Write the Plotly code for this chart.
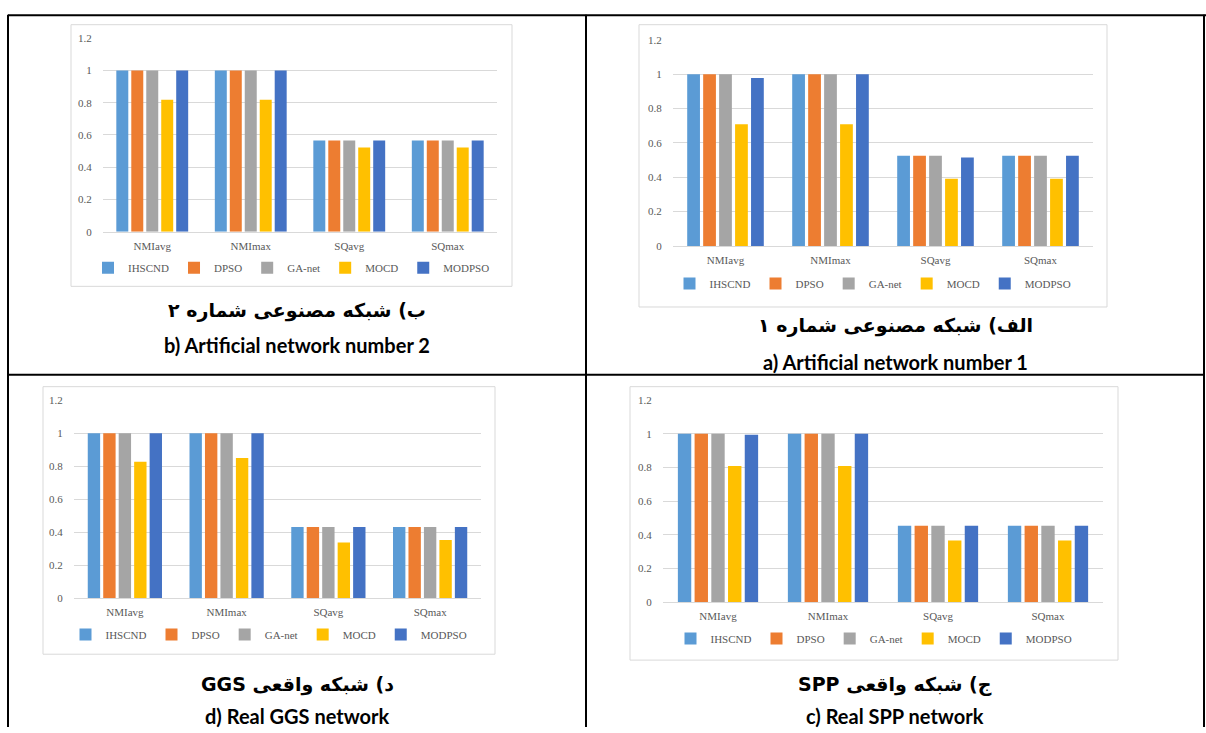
import plotly.graph_objects as go

W, H = 1206, 733

categories = ["NMIavg", "NMImax", "SQavg", "SQmax"]
methods = ["IHSCND", "DPSO", "GA-net", "MOCD", "MODPSO"]
colors = ["#5B9BD5", "#ED7D31", "#A5A5A5", "#FFC000", "#4472C4"]

# rows follow `methods`, columns follow `categories`
art1_values = [
    [1.0, 1.0, 0.525, 0.525],
    [1.0, 1.0, 0.525, 0.525],
    [1.0, 1.0, 0.525, 0.525],
    [0.708, 0.708, 0.391, 0.391],
    [0.977, 1.0, 0.515, 0.525],
]
art2_values = [
    [1.0, 1.0, 0.565, 0.565],
    [1.0, 1.0, 0.565, 0.565],
    [1.0, 1.0, 0.565, 0.565],
    [0.818, 0.818, 0.523, 0.523],
    [1.0, 1.0, 0.565, 0.565],
]
spp_values = [
    [1.0, 1.0, 0.453, 0.453],
    [1.0, 1.0, 0.453, 0.453],
    [1.0, 1.0, 0.453, 0.453],
    [0.809, 0.809, 0.366, 0.366],
    [0.994, 1.0, 0.453, 0.453],
]
ggs_values = [
    [1.0, 1.0, 0.431, 0.431],
    [1.0, 1.0, 0.431, 0.431],
    [1.0, 1.0, 0.431, 0.431],
    [0.827, 0.849, 0.337, 0.353],
    [1.0, 1.0, 0.431, 0.431],
]

y_ticks = [0, 0.2, 0.4, 0.6, 0.8, 1, 1.2]

fa_captions = ["ب) شبکه مصنوعی شماره ۲", "الف) شبکه مصنوعی شماره ۱",
               "د) شبکه واقعی GGS", "ج) شبکه واقعی SPP"]
en_captions = ["b) Artificial network number 2", "a) Artificial network number 1",
               "d) Real GGS network", "c) Real SPP network"]


def fx(px):
    return px / W


def fy(py):
    return 1 - py / H


panels = [
    dict(vals=art2_values, plot=(103, 32.7, 497, 229.5), frame=(71, 19, 512, 285),
         leg=(291.5, 266), cap_x=297, fa_y=310, en_y=345),
    dict(vals=art1_values, plot=(673, 34.3, 1093, 244), frame=(639, 19, 1107, 306),
         leg=(873, 282), cap_x=895, fa_y=325, en_y=362),
    dict(vals=ggs_values, plot=(74, 400.7, 481, 602), frame=(43, 387, 495, 659),
         leg=(269, 639), cap_x=297, fa_y=690, en_y=722),
    dict(vals=spp_values, plot=(663, 400.7, 1103, 606), frame=(630, 387, 1118, 665),
         leg=(874, 643), cap_x=895, fa_y=690, en_y=722),
]

axis_font = dict(family="Liberation Serif, Times New Roman, serif", size=11, color="#595959")

fig = go.Figure()
layout = dict(
    width=W, height=H,
    margin=dict(l=0, r=0, t=0, b=0),
    paper_bgcolor="white", plot_bgcolor="rgba(0,0,0,0)",
    barmode="group", bargap=0.24, bargroupgap=0.2,
    shapes=[], annotations=[],
)

for i, p in enumerate(panels):
    sfx = "" if i == 0 else str(i + 1)
    leg_name = "legend" if i == 0 else "legend" + str(i + 1)
    for m, name in enumerate(methods):
        fig.add_trace(go.Bar(
            x=categories, y=p["vals"][m], name=name,
            marker=dict(color=colors[m], line=dict(width=0)),
            xaxis="x" + sfx, yaxis="y" + sfx, legend=leg_name,
            hovertemplate=name + " %{x}: %{y}<extra></extra>",
        ))
    x0, y0, x1, y1 = p["plot"]
    layout["xaxis" + sfx] = dict(
        domain=[fx(x0), fx(x1)], anchor="y" + sfx, type="category",
        showline=True, linecolor="#D9D9D9", linewidth=1, showgrid=False,
        ticks="outside", ticklen=4, tickcolor="rgba(0,0,0,0)",
        tickfont=axis_font, fixedrange=True,
    )
    layout["yaxis" + sfx] = dict(
        domain=[fy(y1), fy(y0)], anchor="x" + sfx, range=[0, 1.2001],
        tickvals=y_ticks, ticktext=[f"{v:g}" for v in y_ticks],
        showgrid=True, gridcolor="#D9D9D9", gridwidth=1,
        zeroline=False, showline=False,
        ticks="outside", ticklen=8, tickcolor="rgba(0,0,0,0)",
        tickfont=axis_font, fixedrange=True,
    )
    lx, ly = p["leg"]
    layout[leg_name] = dict(
        orientation="h", x=fx(lx), xanchor="center", y=fy(ly), yanchor="middle",
        font=axis_font, bgcolor="rgba(0,0,0,0)", traceorder="normal",
        itemwidth=30,
    )
    fx0, fy0, fx1, fy1 = p["frame"]
    layout["shapes"].append(dict(
        type="rect", xref="paper", yref="paper", layer="below",
        x0=fx(fx0), x1=fx(fx1), y0=fy(fy1), y1=fy(fy0),
        line=dict(color="#D9D9D9", width=1), fillcolor="white",
    ))
    layout["annotations"].append(dict(
        xref="paper", yref="paper", x=fx(p["cap_x"]), y=fy(p["fa_y"]),
        xanchor="center", yanchor="middle", showarrow=False,
        text="\u202b" + fa_captions[i] + "\u202c",
        font=dict(family="DejaVu Sans, sans-serif", size=19, color="black", weight=700),
    ))
    layout["annotations"].append(dict(
        xref="paper", yref="paper", x=fx(p["cap_x"]), y=fy(p["en_y"]),
        xanchor="center", yanchor="middle", showarrow=False,
        text=en_captions[i],
        font=dict(family="Lato, Open Sans, sans-serif", size=20, color="black", weight=700),
    ))

# table borders
table_lines = [
    (8, 9.5, 1206, 9.5),
    (8, 9, 8, 733),
    (586, 9, 586, 733),
    (1204, 9, 1204, 733),
    (8, 375, 1204, 375),
]
for (ax0, ay0, ax1, ay1) in table_lines:
    layout["shapes"].append(dict(
        type="line", xref="paper", yref="paper", layer="above",
        x0=fx(ax0), y0=fy(ay0), x1=fx(ax1), y1=fy(ay1),
        line=dict(color="black", width=2),
    ))

fig.update_layout(**layout)
fig.write_html(
    "out.html",
    config={"displayModeBar": False},
    post_script="document.body.style.margin='0';document.body.style.overflow='hidden';",
)
